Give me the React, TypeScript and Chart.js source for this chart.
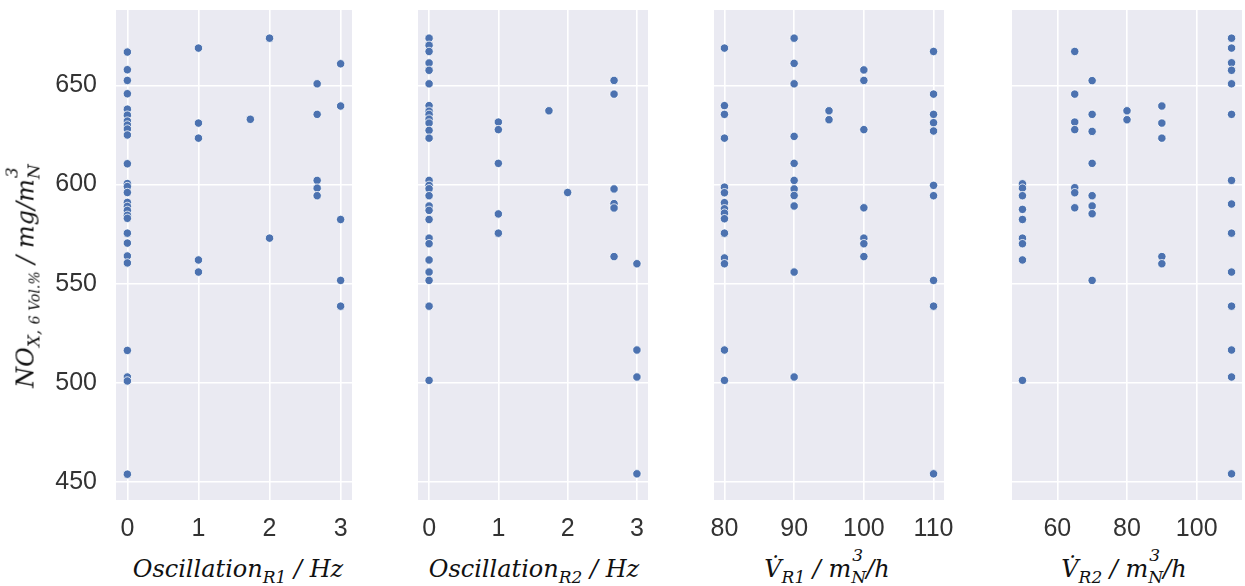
import React, { useEffect, useRef } from "react";
import { Chart, registerables } from "chart.js";

Chart.register(...registerables);

// ---- shared y axis (NOx) ----
const yTicks = [450, 500, 550, 600, 650];
const yMin = 441;
const yMax = 688;

// ---- Panel 1: Oscillation R1 / Hz ----
const oscR1Ticks = [0, 1, 2, 3];
const oscR1Range = [-0.16, 3.16];
const oscR1Levels = [0, 1, 1.73, 2, 2.67, 3];
const oscR1NOx = [
  [666.8, 657.9, 652.5, 645.8, 638, 635, 632, 630, 628, 625, 610.5, 600.5, 599, 596, 591, 589, 587, 584.5, 583, 575.5, 570.5, 564, 560.5, 516.4, 503, 501, 454],
  [668.8, 631, 623.4, 562, 555.9],
  [632.9],
  [673.8, 573],
  [650.8, 635.4, 602.1, 598.2, 594.4],
  [660.9, 639.6, 582.4, 551.7, 538.7],
];

// ---- Panel 2: Oscillation R2 / Hz ----
const oscR2Ticks = [0, 1, 2, 3];
const oscR2Range = [-0.16, 3.16];
const oscR2Levels = [0, 1, 1.73, 2, 2.67, 3];
const oscR2NOx = [
  [673.8, 670.2, 667.1, 661.3, 657.6, 650.8, 639.8, 637, 635.4, 633, 631, 627.3, 623.4, 602.1, 599.6, 597.9, 594.4, 589.2, 587, 582.4, 573, 570.2, 562, 555.9, 551.7, 538.7, 501.3],
  [631.5, 627.7, 610.7, 585.2, 575.5],
  [637.2],
  [596],
  [652.5, 645.6, 597.8, 590.4, 588.2, 563.7],
  [560.1, 516.6, 503, 454.2],
];

// ---- Panel 3: V R1 / m_N^3/h ----
const vR1Ticks = [80, 90, 100, 110];
const vR1Range = [78.5, 111.5];
const vR1Levels = [80, 90, 95, 100, 110];
const vR1NOx = [
  [668.8, 639.8, 635.4, 623.4, 598.7, 595.9, 590.9, 587.8, 585.6, 582.8, 575.5, 563, 560.1, 516.6, 501.3],
  [673.8, 661.1, 650.8, 624.3, 610.7, 602.1, 597.8, 594.5, 589.2, 555.9, 503],
  [637.2, 632.7],
  [657.8, 652.5, 627.7, 588.3, 573, 570.2, 563.7],
  [667.1, 645.6, 635.4, 631.2, 627, 599.6, 594.4, 551.7, 538.7, 454.2],
];

// ---- Panel 4: V R2 / m_N^3/h ----
const vR2Ticks = [60, 80, 100];
const vR2Range = [47, 113];
const vR2Levels = [50, 65, 70, 80, 90, 110];
const vR2NOx = [
  [600.4, 598.2, 594.4, 587.5, 582.4, 573, 570.2, 562, 501.3],
  [667.1, 645.6, 631.5, 627.7, 598.4, 595.9, 588.3],
  [652.4, 635.4, 626.8, 610.7, 594.4, 589.2, 585.3, 551.7],
  [637.2, 632.7],
  [639.6, 631, 623.4, 563.7, 560.1],
  [673.8, 668.8, 661.4, 657.6, 650.8, 635.4, 602.1, 590.2, 575.5, 555.9, 538.7, 516.6, 503, 454.2],
];

const bgPlugin = {
  id: "darkgridBg",
  beforeDraw(chart: any) {
    const { ctx, chartArea: a } = chart;
    ctx.save();
    ctx.fillStyle = "#EAEAF2";
    ctx.fillRect(a.left, a.top, a.right - a.left, a.bottom - a.top);
    ctx.restore();
  },
};

const tickFont = { family: '"Liberation Sans", Arial, sans-serif', size: 25 };

type PanelProps = {
  levels: number[];
  values: number[][];
  ticks: number[];
  range: number[];
  showY: boolean;
  left: number;
  plotWidth: number;
  yAxisWidth: number;
};

const RIGHT_PAD = 24;

function ScatterPanel({ levels, values, ticks, range, showY, left, plotWidth, yAxisWidth }: PanelProps) {
  const ref = useRef<HTMLCanvasElement>(null);
  useEffect(() => {
    const points = levels.flatMap((x, i) => values[i].map((y) => ({ x, y })));
    const chart = new Chart(ref.current as HTMLCanvasElement, {
      type: "scatter",
      data: {
        datasets: [
          {
            data: points,
            backgroundColor: "#4C72B0",
            borderColor: "#ffffff",
            borderWidth: 0.8,
            pointRadius: 4.2,
            pointHoverRadius: 4.2,
          },
        ],
      },
      options: {
        animation: false,
        responsive: true,
        maintainAspectRatio: false,
        events: [],
        layout: { padding: { left: 0, right: RIGHT_PAD, top: 10, bottom: 0 } },
        plugins: { legend: { display: false }, tooltip: { enabled: false } },
        scales: {
          x: {
            type: "linear",
            min: range[0],
            max: range[1],
            afterBuildTicks: (s: any) => {
              s.ticks = ticks.map((v) => ({ value: v }));
            },
            afterFit: (s: any) => {
              s.height = 45;
              s.paddingLeft = 0;
              s.paddingRight = 0;
            },
            grid: { color: "#ffffff", lineWidth: 1.6, drawTicks: false },
            border: { display: false },
            ticks: { font: tickFont, color: "#333333", padding: 14, maxRotation: 0, autoSkip: false },
          },
          y: {
            type: "linear",
            min: yMin,
            max: yMax,
            afterBuildTicks: (s: any) => {
              s.ticks = yTicks.map((v) => ({ value: v }));
            },
            afterFit: (s: any) => {
              s.width = yAxisWidth;
              s.paddingTop = 0;
              s.paddingBottom = 0;
            },
            grid: { color: "#ffffff", lineWidth: 1.6, drawTicks: false },
            border: { display: false },
            ticks: { display: showY, font: tickFont, color: "#333333", padding: 19, autoSkip: false },
          },
        },
      },
      plugins: [bgPlugin],
    });
    return () => chart.destroy();
  }, []);
  return (
    <div style={{ position: "absolute", left, top: 0, width: yAxisWidth + plotWidth + RIGHT_PAD, height: 545 }}>
      <canvas ref={ref} />
    </div>
  );
}

const serif = '"DejaVu Serif", "Liberation Serif", serif';

const Sub = ({ children }: { children: React.ReactNode }) => (
  <span style={{ fontSize: 17, position: "relative", top: 6 }}>{children}</span>
);

const SubSup = ({ sub, sup }: { sub: string; sup: string }) => (
  <span style={{ position: "relative", display: "inline-block" }}>
    <span style={{ fontSize: 17, position: "relative", top: 6 }}>{sub}</span>
    <span style={{ fontSize: 17, lineHeight: "17px", position: "absolute", left: 1, top: -10 }}>{sup}</span>
  </span>
);

function XTitle({ center, children }: { center: number; children: React.ReactNode }) {
  return (
    <div
      style={{
        position: "absolute",
        left: center - 200,
        width: 400,
        top: 557,
        textAlign: "center",
        fontFamily: serif,
        fontStyle: "italic",
        fontSize: 24,
        lineHeight: "24px",
        whiteSpace: "nowrap",
        color: "#111",
      }}
    >
      {children}
    </div>
  );
}

export default function App() {
  return (
    <div style={{ position: "absolute", left: 0, top: 0, width: 1245, height: 586, overflow: "hidden", background: "#fff" }}>
      <ScatterPanel levels={oscR1Levels} values={oscR1NOx} ticks={oscR1Ticks} range={oscR1Range} showY={true} left={0} plotWidth={236} yAxisWidth={116} />
      <ScatterPanel levels={oscR2Levels} values={oscR2NOx} ticks={oscR2Ticks} range={oscR2Range} showY={false} left={413} plotWidth={235} yAxisWidth={0} />
      <ScatterPanel levels={vR1Levels} values={vR1NOx} ticks={vR1Ticks} range={vR1Range} showY={false} left={709} plotWidth={235} yAxisWidth={0} />
      <ScatterPanel levels={vR2Levels} values={vR2NOx} ticks={vR2Ticks} range={vR2Range} showY={false} left={1007} plotWidth={235} yAxisWidth={0} />

      <XTitle center={238}>
        Oscillation<Sub>R1</Sub> / Hz
      </XTitle>
      <XTitle center={534}>
        Oscillation<Sub>R2</Sub> / Hz
      </XTitle>
      <XTitle center={827}>
        {"V\u0307"}<Sub>R1</Sub> / m<SubSup sub="N" sup="3" />/h
      </XTitle>
      <XTitle center={1124}>
        {"V\u0307"}<Sub>R2</Sub> / m<SubSup sub="N" sup="3" />/h
      </XTitle>

      <div
        style={{
          position: "absolute",
          left: 27,
          top: 276,
          transform: "translate(-50%, -50%) rotate(-90deg)",
          fontFamily: serif,
          fontStyle: "italic",
          fontSize: 24,
          lineHeight: "24px",
          whiteSpace: "nowrap",
          color: "#111",
        }}
      >
        NO<Sub>X, </Sub>
        <span style={{ fontSize: 14, position: "relative", top: 6 }}>6 Vol.%</span> / mg/m<SubSup sub="N" sup="3" />
      </div>
    </div>
  );
}
